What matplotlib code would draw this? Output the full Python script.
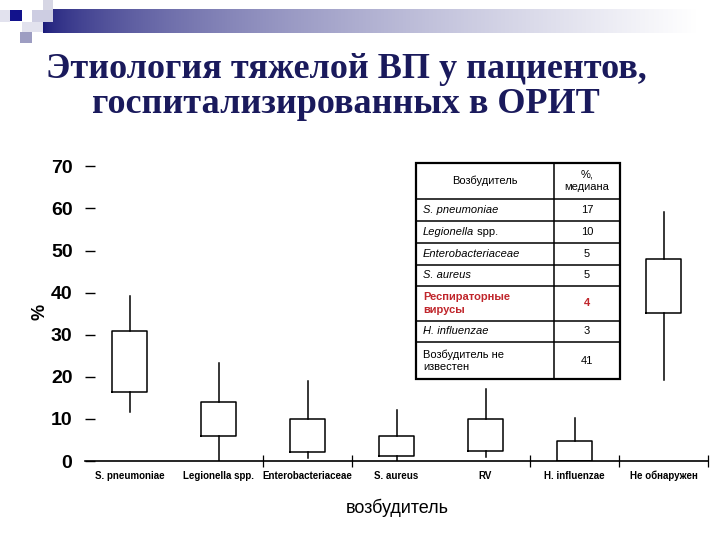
import numpy as np
import matplotlib
matplotlib.use("Agg")
import matplotlib.pyplot as plt
from matplotlib import font_manager
from matplotlib.patches import Rectangle

# ---------------- data ----------------
categories = ["S. pneumoniae", "Legionella spp.", "Enterobacteriaceae", "S. aureus",
              "RV", "H. influenzae", "Не обнаружен"]
whislo = [11.7, 0.0, 0.7, 0.0, 1.0, 0.0, 19.3]
q1 = [16.4, 6.0, 2.2, 1.2, 2.4, 0.0, 35.2]
q3 = [30.8, 14.0, 10.0, 6.0, 9.9, 4.7, 48.0]
whishi = [39.1, 23.3, 19.0, 12.1, 17.1, 10.2, 59.2]
yticks = [0, 10, 20, 30, 40, 50, 60, 70]
x_boundary_ticks = [2, 3, 5, 6, 7]

table_header = ["Возбудитель", "%,\nмедиана"]
table_names = ["S. pneumoniae", "Legionella spp.", "Enterobacteriaceae", "S. aureus",
               "Респираторные\nвирусы", "H. influenzae", "Возбудитель не\nизвестен"]
table_medians = ["17", "10", "5", "5", "4", "3", "41"]

title_lines = ["Этиология тяжелой ВП у пациентов,", "госпитализированных в ОРИТ"]

# ---------------- fonts ----------------
names = {f.name for f in font_manager.fontManager.ttflist}
NARROW = "Liberation Sans Narrow" if "Liberation Sans Narrow" in names else "Liberation Sans"
SANS = "Liberation Sans"
SERIF = "Liberation Serif"

W, H = 720, 540
fig = plt.figure(figsize=(7.2, 5.4), dpi=100)
fig.patch.set_facecolor("white")

def fx(px):
    return px / W

def fy(py):
    return 1 - py / H

# ---------------- main axes ----------------
ymax = 72
ax = fig.add_axes([fx(85), fy(461), fx(708) - fx(85), (72 * 4.21) / H])
ax.set_xlim(0, 7)
ax.set_ylim(0, ymax)
for s in ["top", "right", "left"]:
    ax.spines[s].set_visible(False)
ax.spines["bottom"].set_linewidth(1.2)

positions = np.arange(len(categories)) + 0.5
stats = []
for i in range(len(categories)):
    stats.append(dict(whislo=whislo[i], q1=q1[i], med=q1[i], q3=q3[i], whishi=whishi[i],
                      fliers=[], label=categories[i]))
ax.bxp(stats, positions=positions, widths=0.4, showcaps=False, showfliers=False,
       boxprops=dict(color="black", linewidth=1.1),
       whiskerprops=dict(color="black", linewidth=1.1),
       medianprops=dict(linewidth=0),
       manage_ticks=False)

ax.set_yticks(yticks)
ax.set_yticklabels([str(v) for v in yticks], fontfamily=NARROW, fontweight="bold", fontsize=14)
ax.tick_params(axis="y", direction="in", length=7, width=1.0, pad=9, color="black")

ax.set_xticks(x_boundary_ticks)
ax.set_xticklabels([])
ax.tick_params(axis="x", which="major", direction="inout", length=8, width=0.9)
ax.set_xticks(positions, minor=True)
ax.set_xticklabels(categories, minor=True, fontfamily=NARROW, fontsize=7, fontweight="bold")
ax.tick_params(axis="x", which="minor", length=0, pad=7)

fig.text(fx(397), fy(508), "возбудитель", ha="center", va="center",
         fontfamily=NARROW, fontsize=13)
fig.text(fx(40), fy(312), "%", ha="center", va="center", rotation=90,
         fontfamily=NARROW, fontsize=13, fontweight="bold")

# ---------------- overlay (decorations, title, table) ----------------
ov = fig.add_axes([0, 0, 1, 1], zorder=5)
ov.patch.set_alpha(0)
ov.axis("off")

# gradient bar
n = 400
frac = np.linspace(0, 1, n) ** 0.6
c0 = np.array([26, 26, 122]) / 255
grad = c0[None, :] * (1 - frac[:, None]) + np.ones(3)[None, :] * frac[:, None]
ov.imshow(grad[None, :, :], extent=(43, 697, 33, 9), aspect="auto", interpolation="bilinear")

squares = [
    (0, 10, 10, 22, "#e2e2ee"),
    (43, 0, 53, 10, "#d6d6e4"),
    (32, 10, 53, 22, "#cdcde2"),
    (22, 22, 43, 32, "#e2e2ee"),
    (20, 32, 32, 43, "#9d9dc2"),
    (10, 10, 22, 21, "#12128c"),
]
for x0, y0, x1, y1, c in squares:
    ov.add_patch(Rectangle((x0, y0), x1 - x0, y1 - y0, facecolor=c, edgecolor="none"))

ov.text(346, 78, title_lines[0], ha="center", va="baseline", fontfamily=SERIF,
        fontweight="bold", fontsize=26, color="#1a1a5c")
ov.text(346, 113, title_lines[1], ha="center", va="baseline", fontfamily=SERIF,
        fontweight="bold", fontsize=26, color="#1a1a5c")

# table
tx0, tx1, tdiv = 416, 620, 554
rows_y = [163, 199, 221, 243, 265, 286, 321, 342, 379]
ov.add_patch(Rectangle((tx0, rows_y[0]), tx1 - tx0, rows_y[-1] - rows_y[0],
                       facecolor="white", edgecolor="black", linewidth=1.6))
for yv in rows_y[1:-1]:
    ov.plot([tx0, tx1], [yv, yv], color="black", linewidth=1.1)
ov.plot([tdiv, tdiv], [rows_y[0], rows_y[-1]], color="black", linewidth=1.1)

tfs = 8
red = "#c0262c"
ov.text((tx0 + tdiv) / 2, (rows_y[0] + rows_y[1]) / 2, table_header[0], ha="center", va="center",
        fontfamily=SANS, fontsize=tfs)
ov.text((tdiv + tx1) / 2, (rows_y[0] + rows_y[1]) / 2, table_header[1], ha="center", va="center",
        fontfamily=SANS, fontsize=tfs, linespacing=1.3)

styles = ["italic", "mixed", "italic", "italic", "normal", "italic", "normal"]
for i, name in enumerate(table_names):
    yc = (rows_y[i + 1] + rows_y[i + 2]) / 2
    color = red if i == 4 else "black"
    weight = "bold" if i == 4 else "normal"
    if styles[i] == "mixed":
        part1, part2 = name.split(" ", 1)
        t1 = ov.text(423, yc, part1, ha="left", va="center", fontfamily=SANS, fontsize=tfs,
                     style="italic")
        ov.annotate(" " + part2, xy=(1, 0.5), xycoords=t1, ha="left", va="center",
                    fontfamily=SANS, fontsize=tfs)
    else:
        ov.text(423, yc, name, ha="left", va="center", fontfamily=SANS, fontsize=tfs,
                style=styles[i], color=color, weight=weight, linespacing=1.3)
    ov.text((tdiv + tx1) / 2, yc, table_medians[i], ha="center", va="center",
            fontfamily=SANS, fontsize=tfs, color=color, weight=weight)

ov.set_xlim(0, W)
ov.set_ylim(H, 0)

fig.savefig("out.png", dpi=100, facecolor="white")
